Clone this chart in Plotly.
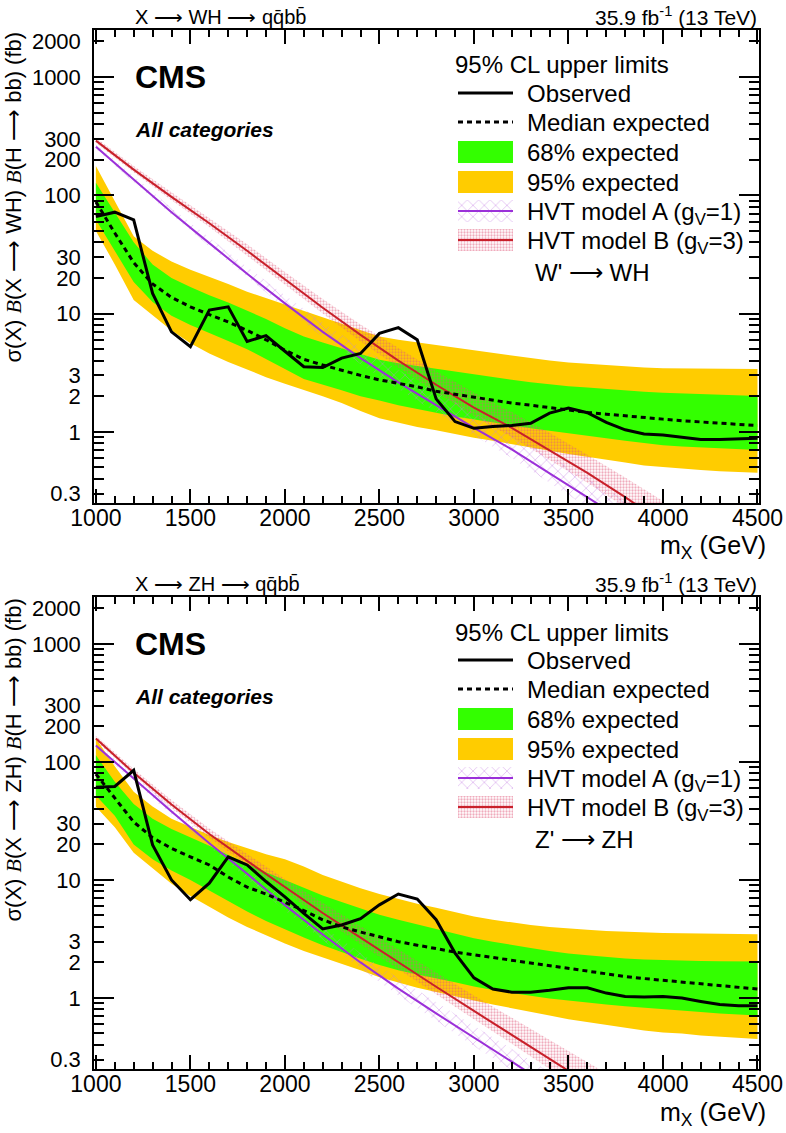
import math
import plotly.graph_objects as go

# ---------------- data ----------------
mass = [1000, 1100, 1200, 1300, 1400, 1500, 1600, 1700, 1800, 1900,
        2000, 2100, 2200, 2300, 2400, 2500, 2600, 2700, 2800, 2900,
        3000, 3100, 3200, 3300, 3400, 3500, 3600, 3700, 3800, 3900,
        4000, 4100, 4200, 4300, 4400, 4500]

# X -> WH
wh_obs = [66, 72, 62, 14.8, 7.0, 5.25, 10.7, 11.4, 5.8, 6.5,
          4.8, 3.55, 3.5, 4.2, 4.6, 6.8, 7.6, 6.0, 1.9, 1.22,
          1.07, 1.11, 1.13, 1.18, 1.44, 1.59, 1.45, 1.2, 1.04, 0.96,
          0.94, 0.9, 0.86, 0.86, 0.87, 0.88]
wh_exp = [88, 48, 27, 17.8, 13.7, 11.4, 9.8, 8.5, 7.2, 6.0,
          4.9, 4.1, 3.67, 3.3, 3.0, 2.75, 2.57, 2.4, 2.2, 2.08,
          1.95, 1.85, 1.75, 1.68, 1.6, 1.52, 1.46, 1.41, 1.36, 1.32,
          1.28, 1.24, 1.21, 1.17, 1.15, 1.13]
wh_m1 = [62, 34, 18.5, 12.5, 9.6, 8.0, 6.8, 5.85, 5.0, 4.15,
         3.4, 2.8, 2.5, 2.25, 2.0, 1.84, 1.68, 1.56, 1.45, 1.35,
         1.27, 1.2, 1.13, 1.07, 1.02, 0.97, 0.92, 0.88, 0.84, 0.8,
         0.77, 0.75, 0.73, 0.72, 0.71, 0.70]
wh_p1 = [128, 72, 40, 26, 20, 16.8, 14.3, 12.4, 10.6, 9.0,
         7.5, 6.4, 5.7, 5.1, 4.55, 4.06, 3.8, 3.6, 3.4, 3.2,
         3.05, 2.9, 2.75, 2.62, 2.52, 2.43, 2.37, 2.3, 2.24, 2.18,
         2.14, 2.11, 2.08, 2.05, 2.03, 2.01]
wh_m2 = [50, 26, 13, 9.6, 7.2, 5.6, 4.6, 3.9, 3.35, 2.9,
         2.55, 2.25, 2.0, 1.75, 1.5, 1.3, 1.2, 1.1, 1.03, 0.96,
         0.89, 0.84, 0.79, 0.74, 0.69, 0.65, 0.61, 0.58, 0.55, 0.52,
         0.5, 0.49, 0.475, 0.465, 0.455, 0.45]
wh_p2 = [177, 88, 45, 34, 27.5, 23.5, 20.5, 17.8, 15.3, 13.5,
         12.0, 10.5, 9.3, 8.2, 7.2, 6.4, 6.0, 5.7, 5.4, 5.1,
         4.85, 4.6, 4.4, 4.2, 4.0, 3.85, 3.75, 3.65, 3.57, 3.5,
         3.45, 3.43, 3.41, 3.4, 3.39, 3.39]

# X -> ZH
zh_obs = [61, 62, 85, 19.8, 10, 6.8, 9.4, 15.7, 13.4, 9.7,
          7.2, 5.2, 3.85, 4.15, 4.7, 6.15, 7.6, 6.9, 4.6, 2.4,
          1.48, 1.19, 1.12, 1.12, 1.16, 1.22, 1.22, 1.1, 1.03, 1.02,
          1.03, 1.0, 0.935, 0.88, 0.86, 0.86]
zh_exp = [79, 50, 31, 22.8, 18.5, 15.7, 13.4, 10.6, 8.7, 7.6,
          6.5, 5.5, 4.6, 4.0, 3.62, 3.3, 3.0, 2.8, 2.6, 2.45,
          2.32, 2.2, 2.08, 1.97, 1.87, 1.77, 1.68, 1.6, 1.52, 1.46,
          1.41, 1.36, 1.32, 1.28, 1.24, 1.19]
zh_m1 = [52, 35, 20, 15, 12, 10, 8.2, 6.6, 5.4, 4.5,
         3.8, 3.25, 2.8, 2.45, 2.15, 1.9, 1.72, 1.58, 1.46, 1.36,
         1.25, 1.17, 1.1, 1.04, 0.99, 0.95, 0.92, 0.88, 0.85, 0.82,
         0.8, 0.78, 0.76, 0.74, 0.72, 0.71]
zh_p1 = [114, 68, 44, 33, 27, 23, 19.5, 16.3, 13.7, 11.6,
         10.0, 8.6, 7.4, 6.5, 5.7, 5.06, 4.6, 4.2, 3.85, 3.5,
         3.2, 3.0, 2.8, 2.65, 2.5, 2.38, 2.3, 2.22, 2.16, 2.12,
         2.09, 2.07, 2.06, 2.05, 2.04, 2.04]
zh_m2 = [41.7, 28, 17, 12.5, 9.3, 7.3, 5.9, 4.8, 4.0, 3.4,
         2.9, 2.5, 2.2, 1.95, 1.72, 1.5, 1.35, 1.22, 1.12, 1.03,
         0.95, 0.88, 0.82, 0.76, 0.71, 0.66, 0.62, 0.59, 0.56, 0.53,
         0.51, 0.5, 0.48, 0.47, 0.46, 0.45]
zh_p2 = [158, 92, 56, 42, 33, 28, 24, 21, 18.5, 16.5,
         15, 13, 11, 9.6, 8.5, 7.6, 6.9, 6.3, 5.8, 5.3,
         4.9, 4.6, 4.35, 4.15, 4.0, 3.87, 3.78, 3.7, 3.64, 3.59,
         3.55, 3.53, 3.51, 3.49, 3.48, 3.47]

# HVT model predictions
hvt_mass = [1000, 1200, 1400, 1600, 1800, 2000, 2200, 2400,
            2600, 2800, 3000, 3200, 3400, 3600, 3800, 4000]
w_A = [257, 135, 72, 39.4, 21.7, 12.2, 7.0, 4.2, 2.62, 1.68, 1.08, 0.71, 0.445, 0.28, 0.175, 0.11]
w_A_up = [272, 145, 78, 44, 24.8, 14.3, 8.4, 5.2, 3.35, 2.2, 1.45, 0.97, 0.63, 0.41, 0.265, 0.17]
w_A_lo = [245, 128, 68, 37, 20.2, 11.2, 6.3, 3.75, 2.3, 1.46, 0.93, 0.6, 0.37, 0.23, 0.143, 0.09]
w_B = [290, 165, 97, 58, 34, 19.5, 11.2, 6.6, 4.0, 2.5, 1.6, 1.08, 0.7, 0.45, 0.28, 0.17]
w_B_up = [307, 177, 106, 64, 38.5, 22.5, 13.3, 8.1, 5.1, 3.25, 2.15, 1.47, 0.98, 0.64, 0.41, 0.26]
w_B_lo = [277, 157, 91, 54, 31, 17.6, 10, 5.8, 3.5, 2.15, 1.36, 0.9, 0.58, 0.37, 0.23, 0.14]
z_A = [138, 72, 38, 20.5, 11.3, 6.1, 3.45, 2.0, 1.2, 0.74, 0.46, 0.29, 0.18, 0.115, 0.072, 0.045]
z_A_up = [146, 77, 41, 22.5, 12.6, 7.0, 4.05, 2.4, 1.47, 0.92, 0.58, 0.37, 0.235, 0.15, 0.096, 0.061]
z_A_lo = [131, 68, 35.5, 19, 10.3, 5.5, 3.1, 1.78, 1.05, 0.64, 0.39, 0.245, 0.15, 0.095, 0.06, 0.037]
z_B = [158, 81, 43.6, 24.5, 14.5, 8.7, 5.25, 3.24, 2.0, 1.245, 0.776, 0.484, 0.30, 0.19, 0.12, 0.075]
z_B_up = [167, 87, 47.5, 27.3, 16.6, 10.2, 6.4, 4.05, 2.55, 1.64, 1.05, 0.68, 0.44, 0.285, 0.185, 0.12]
z_B_lo = [151, 77, 41, 22.8, 13.3, 7.9, 4.7, 2.85, 1.74, 1.07, 0.66, 0.41, 0.25, 0.16, 0.1, 0.062]

x_ticks = [1000, 1500, 2000, 2500, 3000, 3500, 4000, 4500]
y_ticks = [0.3, 1, 2, 3, 10, 20, 30, 100, 200, 300, 1000, 2000]
y_ticktext = ["0.3", "1", "2", "3", "10", "20", "30", "100", "200", "300", "1000", "2000"]
y_minor = [0.4, 0.5, 0.6, 0.7, 0.8, 0.9, 4, 5, 6, 7, 8, 9,
           40, 50, 60, 70, 80, 90, 400, 500, 600, 700, 800, 900]
y_decades = [1, 10, 100, 1000]

# ---------------- style ----------------
F = "Liberation Sans, Arial, Helvetica, sans-serif"
YELLOW = "#FFCC00"
GREEN = "#33FF00"
PURPLE = "#9b30d9"
RED = "#c8202a"
HATCH_A = "#c47fe3"
DOTS_B = "#e0587a"
ARROW = "\u27F6"

W, H = 786, 1133
L, R, T, B = 94, 27, 30, 64
PW, PH = W - L - R, H - T - B


def px(x):
    return (x - L) / PW


def py(y):
    return (H - B - y) / PH


fig = go.Figure()


def band(xs, lo, up, xa, ya, **kw):
    return go.Scatter(x=list(xs) + list(xs)[::-1], y=list(up) + list(lo)[::-1],
                      fill="toself", mode="lines", line=dict(width=0),
                      hoverinfo="skip", showlegend=False, xaxis=xa, yaxis=ya, **kw)


PAT_A = dict(shape="x", fgcolor=HATCH_A, size=8, solidity=0.2)
PAT_B = dict(shape=".", fgcolor=DOTS_B, size=3, solidity=0.45)

panels = [
    dict(xa="x", ya="y", obs=wh_obs, exp=wh_exp, m1=wh_m1, p1=wh_p1, m2=wh_m2, p2=wh_p2,
         A=w_A, Au=w_A_up, Al=w_A_lo, Bm=w_B, Bu=w_B_up, Bl=w_B_lo),
    dict(xa="x2", ya="y2", obs=zh_obs, exp=zh_exp, m1=zh_m1, p1=zh_p1, m2=zh_m2, p2=zh_p2,
         A=z_A, Au=z_A_up, Al=z_A_lo, Bm=z_B, Bu=z_B_up, Bl=z_B_lo),
]

for p in panels:
    xa, ya = p["xa"], p["ya"]
    fig.add_trace(band(mass, p["m2"], p["p2"], xa, ya, fillcolor=YELLOW))
    fig.add_trace(band(mass, p["m1"], p["p1"], xa, ya, fillcolor=GREEN))
    fig.add_trace(band(hvt_mass, p["Al"], p["Au"], xa, ya, fillcolor="rgba(0,0,0,0)", fillpattern=PAT_A))
    fig.add_trace(band(hvt_mass, p["Bl"], p["Bu"], xa, ya, fillcolor="rgba(0,0,0,0)", fillpattern=PAT_B))
    fig.add_trace(go.Scatter(x=hvt_mass, y=p["A"], mode="lines", line=dict(color=PURPLE, width=2),
                             xaxis=xa, yaxis=ya, showlegend=False, hoverinfo="skip"))
    fig.add_trace(go.Scatter(x=hvt_mass, y=p["Bm"], mode="lines", line=dict(color=RED, width=2),
                             xaxis=xa, yaxis=ya, showlegend=False, hoverinfo="skip"))
    fig.add_trace(go.Scatter(x=mass, y=p["exp"], mode="lines",
                             line=dict(color="black", width=3, dash="5px,4px"),
                             xaxis=xa, yaxis=ya, showlegend=False, hoverinfo="skip"))
    fig.add_trace(go.Scatter(x=mass, y=p["obs"], mode="lines", line=dict(color="black", width=3),
                             xaxis=xa, yaxis=ya, showlegend=False, hoverinfo="skip"))

# invisible traces so that the decade-tick overlay axes are drawn
fig.add_trace(go.Scatter(x=[2000], y=[1], xaxis="x", yaxis="y3", mode="markers",
                         marker=dict(opacity=0), showlegend=False, hoverinfo="skip"))
fig.add_trace(go.Scatter(x=[2000], y=[1], xaxis="x2", yaxis="y4", mode="markers",
                         marker=dict(opacity=0), showlegend=False, hoverinfo="skip"))

# ---------------- legend swatches (pixel layer) ----------------
SX0, SX1 = 458, 513
for dy in (0, 567):
    fig.add_trace(go.Scatter(x=[SX0, SX1], y=[93 + dy, 93 + dy], mode="lines",
                             line=dict(color="black", width=3), xaxis="x5", yaxis="y5",
                             showlegend=False, hoverinfo="skip"))
    fig.add_trace(go.Scatter(x=[SX0, SX1], y=[122 + dy, 122 + dy], mode="lines",
                             line=dict(color="black", width=3, dash="5px,4px"), xaxis="x5", yaxis="y5",
                             showlegend=False, hoverinfo="skip"))
    for (y0, y1, col) in ((141, 163, GREEN), (171, 193, YELLOW)):
        fig.add_trace(go.Scatter(x=[SX0, SX1, SX1, SX0, SX0],
                                 y=[y0 + dy, y0 + dy, y1 + dy, y1 + dy, y0 + dy],
                                 fill="toself", fillcolor=col, mode="lines", line=dict(width=0),
                                 xaxis="x5", yaxis="y5", showlegend=False, hoverinfo="skip"))
    for (y0, y1, pat, col) in ((200, 222, PAT_A, PURPLE), (229, 251, PAT_B, RED)):
        fig.add_trace(go.Scatter(x=[SX0, SX1, SX1, SX0, SX0],
                                 y=[y0 + dy, y0 + dy, y1 + dy, y1 + dy, y0 + dy],
                                 fill="toself", fillcolor="rgba(0,0,0,0)", fillpattern=pat,
                                 mode="lines", line=dict(width=0),
                                 xaxis="x5", yaxis="y5", showlegend=False, hoverinfo="skip"))
        ym = (y0 + y1) / 2 + dy
        fig.add_trace(go.Scatter(x=[SX0, SX1], y=[ym, ym], mode="lines",
                                 line=dict(color=col, width=2), xaxis="x5", yaxis="y5",
                                 showlegend=False, hoverinfo="skip"))

# ---------------- axes ----------------
yr = [math.log10(0.25), math.log10(2500)]
xcommon = dict(range=[990, 4508], tickmode="array", tickvals=x_ticks, ticks="inside", ticklen=14,
               tickwidth=1.5, tickcolor="black", showline=True, linecolor="black", linewidth=1.5,
               mirror="ticks", showgrid=False, zeroline=False,
               tickfont=dict(family=F, size=23, color="black"),
               ticklabelstandoff=-6, ticklabeloverflow="allow",
               minor=dict(dtick=100, tick0=1000, ticks="inside", ticklen=7, tickwidth=1.5,
                          tickcolor="black", showgrid=False))
ycommon = dict(type="log", range=yr, tickmode="array", tickvals=y_ticks, ticktext=y_ticktext,
               ticks="inside", ticklen=10, tickwidth=1.5, tickcolor="black", showline=True,
               linecolor="black", linewidth=1.5, mirror="ticks", showgrid=False, zeroline=False,
               tickfont=dict(family=F, size=22, color="black"), ticklabelstandoff=7,
               ticklabeloverflow="allow",
               minor=dict(tickmode="array", tickvals=y_minor, ticks="inside", ticklen=10,
                          tickwidth=1.5, tickcolor="black", showgrid=False))
ydec = dict(type="log", range=yr, tickmode="array", tickvals=y_decades, ticks="inside", ticklen=20,
            tickwidth=1.5, tickcolor="black", showticklabels=False, showline=False,
            mirror="ticks", showgrid=False, zeroline=False)

top_dom = [py(503), 1.0]
bot_dom = [0.0, py(597)]

fig.update_layout(
    width=W, height=H,
    margin=dict(l=L, r=R, t=T, b=B, autoexpand=False),
    paper_bgcolor="white", plot_bgcolor="rgba(0,0,0,0)",
    showlegend=False,
    xaxis=dict(domain=[0, 1], anchor="y", **xcommon),
    yaxis=dict(domain=top_dom, anchor="x", **ycommon),
    xaxis2=dict(domain=[0, 1], anchor="y2", **xcommon),
    yaxis2=dict(domain=bot_dom, anchor="x2", **ycommon),
    yaxis3=dict(overlaying="y", anchor="x", side="left", **ydec),
    yaxis4=dict(overlaying="y2", anchor="x2", side="left", **ydec),
    xaxis5=dict(domain=[0, 1], anchor="y5", range=[L, W - R], visible=False, fixedrange=True),
    yaxis5=dict(domain=[0, 1], anchor="x5", range=[H - B, T], visible=False, fixedrange=True),
)

# ---------------- text ----------------
ann = []


def txt(x, y, s, size, xanchor="left", yanchor="middle", **kw):
    ann.append(dict(x=px(x), y=py(y), xref="paper", yref="paper", text=s, showarrow=False,
                    xanchor=xanchor, yanchor=yanchor,
                    font=dict(family=F, size=size, color="black"), **kw))


BSERIF = '<span style="font-family:Liberation Serif, DejaVu Serif, serif"><i>B</i></span>'
for dy, proc, boson in ((0, "W", "W' " + ARROW + " WH"), (567, "Z", "Z' " + ARROW + " ZH")):
    txt(133, 17 + dy, "X " + ARROW + " " + proc + "H " + ARROW + " qq\u0304bb\u0304", 20)
    txt(759, 16 + dy, "35.9 fb<sup>-1</sup> (13 TeV)", 21, xanchor="right")
    txt(133, 77 + dy, "<b>CMS</b>", 32)
    txt(133, 129 + dy, "<b><i>All categories</i></b>", 21)
    txt(453, 65 + dy, "95% CL upper limits", 24)
    txt(525, 93 + dy, "Observed", 24)
    txt(525, 122 + dy, "Median expected", 24)
    txt(525, 152 + dy, "68% expected", 24)
    txt(525, 182 + dy, "95% expected", 24)
    txt(525, 213 + dy, "HVT model A (g<sub>V</sub>=1)", 24)
    txt(525, 242 + dy, "HVT model B (g<sub>V</sub>=3)", 24)
    txt(533, 272 + dy, boson, 24)
    txt(768, 547 + dy, "m<sub>X</sub> (GeV)", 25, xanchor="right")
    txt(13, 30 + dy, "σ(X) " + BSERIF + "(X " + ARROW + " " + proc + "H) " + BSERIF +
        "(H " + ARROW + " bb) (fb)", 22, xanchor="center", yanchor="top", textangle=-90)

fig.update_layout(annotations=ann)
fig.write_html("out.html", config={"displayModeBar": False},
               post_script="document.body.style.margin='0px';")
